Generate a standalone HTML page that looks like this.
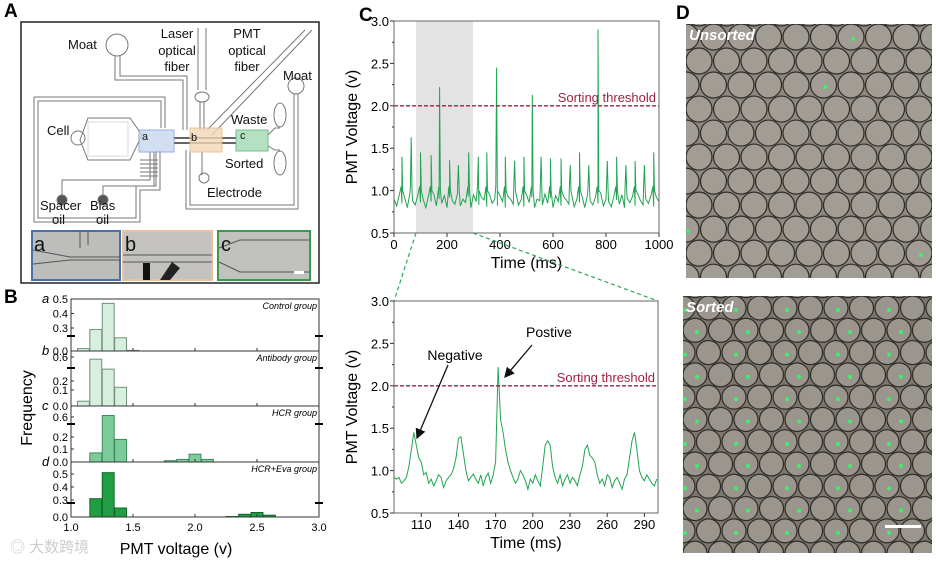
<!DOCTYPE html>
<html><head><meta charset="utf-8">
<style>
body{margin:0;background:#fff;width:936px;height:561px;overflow:hidden;font-family:"Liberation Sans","Noto Sans CJK SC",sans-serif;}
svg{position:absolute;left:0;top:0}
</style></head>
<body>
<svg id="fig" width="936" height="561" viewBox="0 0 936 561" font-family="Liberation Sans, Noto Sans CJK SC, sans-serif">
<!-- Panel A -->
<g fill="none" stroke="#777" stroke-width="1">
<text x="4" y="17" font-size="19" font-weight="bold" fill="#000" stroke="none">A</text>
<rect x="21" y="22" width="298" height="261" stroke="#222" stroke-width="1.5"/>
<circle cx="117" cy="45" r="11"/>
<path d="M115 56 V80 H183 V130 M120 56 V76 H187 V130"/>
<path d="M198 28 V90 M206 28 V90"/><ellipse cx="202" cy="97" rx="7" ry="5"/>
<path d="M200 102 V130 M204 102 V130"/>
<path d="M305 30 L207 130 M312 30 L212 135"/>
<circle cx="296" cy="86" r="8"/><path d="M294 94 V205 H190 V150 M298 94 V209 H186 V150"/>
<path d="M34 97 V222 H140 V190 H160 V150 M38 101 V218 H136 V186 H156 V150"/>
<path d="M34 97 H165 V128 M38 101 H161 V128"/>
<path d="M88 118 L130 118 L142 135 L130 160 L88 160 L80 140 Z"/>
<circle cx="78" cy="138" r="7"/>
<path d="M140 160 H158 M140 164 H158 M140 168 H158 M140 172 H158 M140 176 H158"/>
<path d="M62 200 V180 H150 V152 M103 200 V186 H154 V152"/>
<circle cx="62" cy="200" r="5" fill="#555"/><circle cx="103" cy="200" r="5" fill="#555"/>
<path d="M174 138 H236 M174 143 H236" stroke="#666" stroke-width="2"/>
<path d="M268 135 L275 128 H280 M268 146 L275 150 H280"/>
<ellipse cx="280" cy="115" rx="6" ry="12"/><ellipse cx="280" cy="163" rx="6" ry="12"/>
<path d="M202 152 V175"/><ellipse cx="204" cy="178" rx="5" ry="5"/>
<g stroke="#ccc" fill="#ccc" opacity="0.7">
<rect x="88" y="122" width="40" height="34" fill="none"/>
</g>
<rect x="139" y="130" width="35" height="22" fill="#c8d8ef" stroke="#7f9cd0" opacity="0.8"/>
<rect x="190" y="128" width="32" height="24" fill="#f3d7b5" stroke="#e3b886" opacity="0.8"/>
<rect x="236" y="130" width="32" height="21" fill="#a9dcb9" stroke="#5bb27a" opacity="0.85"/>
<g fill="#111" stroke="none" font-size="13">
<text x="68" y="49">Moat</text>
<text x="177" y="38" text-anchor="middle">Laser</text>
<text x="177" y="55" text-anchor="middle">optical</text>
<text x="177" y="71" text-anchor="middle">fiber</text>
<text x="247" y="38" text-anchor="middle">PMT</text>
<text x="247" y="55" text-anchor="middle">optical</text>
<text x="247" y="71" text-anchor="middle">fiber</text>
<text x="283" y="80">Moat</text>
<text x="47" y="135">Cell</text>
<text x="231" y="124">Waste</text>
<text x="225" y="168">Sorted</text>
<text x="207" y="197">Electrode</text>
<text x="40" y="210">Spacer</text><text x="52" y="224">oil</text>
<text x="90" y="210">Bias</text><text x="96" y="224">oil</text>
<text x="142" y="140" font-size="11">a</text>
<text x="191" y="141" font-size="11">b</text>
<text x="240" y="139" font-size="11">c</text>
</g>
<rect x="32" y="231" width="88" height="49" fill="#bdbdbb" stroke="#4a6fb0" stroke-width="2"/>
<rect x="123" y="231" width="89" height="49" fill="#c4c2bf" stroke="#e6c49c" stroke-width="2"/>
<rect x="218" y="231" width="92" height="49" fill="#c1c1bd" stroke="#3a9a55" stroke-width="2"/>
<path d="M33 250 L70 257 H120 M33 264 L70 260 H120 M80 231 V248 M88 231 V245 M123 255 H212 M123 262 H212 M219 248 L240 240 H310 M219 262 L240 272 H310" stroke="#555"/>
<rect x="143" y="263" width="7" height="17" fill="#111" stroke="none"/>
<path d="M160 280 L172 262 L180 268 L170 280" fill="#222" stroke="none"/>
<g fill="#111" stroke="none" font-size="20"><text x="34" y="251">a</text><text x="125" y="251">b</text><text x="221" y="251">c</text></g>
<rect x="294" y="271" width="10" height="3" fill="#fff" stroke="none"/>
</g>

<!-- Panel B -->
<g id="panelB">
<text x="4" y="303" font-size="19" font-weight="bold" fill="#000">B</text>
<text transform="translate(32,408) rotate(-90)" font-size="16" text-anchor="middle">Frequency</text>
<text x="176" y="554" font-size="16" text-anchor="middle">PMT voltage (v)</text>
<text x="10" y="552" font-size="15" fill="#ccc">◎ 大数跨境</text>
</g>

<!-- Panel C -->
<g id="panelC">
<text x="359" y="21" font-size="19" font-weight="bold">C</text>
</g>

<!-- Panel D -->
<g>
<text x="676" y="19" font-size="19" font-weight="bold">D</text>
<svg x="686" y="24" width="246" height="254" id="imgTop"></svg>
<svg x="683" y="296" width="249" height="257" id="imgBot"></svg>
<text x="689" y="40" font-size="15" font-weight="bold" font-style="italic" fill="#fff">Unsorted</text>
<text x="686" y="312" font-size="15" font-weight="bold" font-style="italic" fill="#fff">Sorted</text>
<rect x="885" y="525" width="36" height="3" fill="#fff"/>
</g>
</svg>
<script>
const NS="http://www.w3.org/2000/svg";
function mk(parent,tag,attrs,text){const e=document.createElementNS(NS,tag);for(const k in attrs)e.setAttribute(k,attrs[k]);if(text!==undefined)e.textContent=text;parent.appendChild(e);return e;}

/* ---------- Panel B data ---------- */
const histBins=[1.1,1.2,1.3,1.4,1.5,1.6,1.7,1.8,1.9,2.0,2.1,2.2,2.3,2.4,2.5,2.6];
const histA=[0.04,0.29,0.47,0.22,0.01,0,0,0,0,0,0,0,0,0,0,0];
const histB=[0.03,0.55,0.32,0.13,0,0,0,0,0,0,0,0,0,0,0,0];
const histC=[0,0.07,0.65,0.18,0,0,0,0.01,0.02,0.06,0.02,0,0,0,0,0];
const histD=[0,0.31,0.51,0.1,0,0,0,0,0,0,0,0,0.005,0.03,0.05,0.02];
const histNames=["Control group","Antibody group","HCR group","HCR+Eva group"];
const histLetters=["a","b","c","d"];
const histTicksA=[0.0,0.3,0.4,0.5];
const histTicksB=[0.0,0.1,0.2,0.6];
const histTicksC=[0.0,0.1,0.2,0.6];
const histTicksD=[0.0,0.3,0.4,0.5];
const xTicksB=[1.0,1.5,2.0,2.5,3.0];

const bx0=71,bx1=319;
function xB(v){return bx0+(v-1.0)/2.0*(bx1-bx0);}
const panelsB=[
 {top:299,bot:351,vals:histA,ticks:histTicksA,fill:"#d8efe0",stroke:"#6f8f7a",sc:[[0,351],[0.25,336],[0.3,328],[0.5,299]],brk:336},
 {top:351,bot:406,vals:histB,ticks:histTicksB,fill:"#d8efe0",stroke:"#6f8f7a",sc:[[0,406],[0.1,390],[0.2,381],[0.3,370],[0.6,357]],brk:368},
 {top:406,bot:462,vals:histC,ticks:histTicksC,fill:"#7ccc9a",stroke:"#3f8a5a",sc:[[0,462],[0.1,449],[0.2,437],[0.3,424],[0.6,417],[0.7,414]],brk:424},
 {top:462,bot:517,vals:histD,ticks:histTicksD,fill:"#1f9e44",stroke:"#12642a",sc:[[0,517],[0.1,508],[0.3,500],[0.5,474],[0.6,461]],brk:503}
];
function pw(sc,v){for(let i=0;i<sc.length-1;i++){if(v<=sc[i+1][0]){const t=(v-sc[i][0])/(sc[i+1][0]-sc[i][0]);return sc[i][1]+t*(sc[i+1][1]-sc[i][1]);}}return sc[sc.length-1][1];}
const gB=document.getElementById("panelB");
panelsB.forEach((p,pi)=>{
  const g=mk(gB,"g",{});
  
  
  p.vals.forEach((v,i)=>{ if(v<=0)return;
    const y=pw(p.sc,v);const x=xB(histBins[i]-0.048);
    const r=mk(g,"rect",{x:x,y:y,width:xB(histBins[i]+0.048)-x,height:p.bot-y,fill:p.fill,stroke:p.stroke,"stroke-width":1});
    
    
  });
  const fr=mk(g,"rect",{x:bx0,y:p.top,width:bx1-bx0,height:p.bot-p.top,fill:"none",stroke:"#333","stroke-width":1});
  
  
  mk(g,"line",{x1:bx0-4,x2:bx0+4,y1:p.brk,y2:p.brk,stroke:"#000","stroke-width":2});
  mk(g,"line",{x1:bx1-4,x2:bx1+4,y1:p.brk,y2:p.brk,stroke:"#000","stroke-width":2});
  p.ticks.forEach(t=>{const y=pw(p.sc,t);
    mk(g,"line",{x1:bx0,x2:bx0+3,y1:y,y2:y,stroke:"#333"});
    const tl=mk(g,"text",{x:bx0-3,y:y+4,"font-size":11,"text-anchor":"end"},t.toFixed(1));
    
    
  });
  xTicksB.forEach(t=>mk(g,"line",{x1:xB(t),x2:xB(t),y1:p.bot,y2:p.bot-3,stroke:"#333"}));
  const nm=mk(g,"text",{x:bx1-2,y:p.top+10,"font-size":9,"font-style":"italic","text-anchor":"end"},histNames[pi]);
  
  
  const lt=mk(g,"text",{x:42,y:p.top+4,"font-size":13,"font-style":"italic"},histLetters[pi]);
  
  
});
xTicksB.forEach(t=>{const tl=mk(gB,"text",{x:xB(t),y:531,"font-size":11,"text-anchor":"middle"},t.toFixed(1));
  
  });

/* ---------- Panel C data ---------- */
const baselineTop=[0.9,0.82,0.95,0.85,0.92,0.8,0.97,0.88,0.83,0.95,0.86,0.9,0.8,0.93,0.87,0.96,0.82,0.9,0.85,0.94,0.8,0.92,0.88,0.84,0.97,0.82,0.9,0.86,0.93,0.8,0.95,0.87,0.83,0.92,0.89,0.81,0.96,0.85,0.9,0.82,0.94,0.87,0.8,0.93,0.9,0.84,0.97,0.83,0.89,0.81,0.95,0.86,0.92,0.8,0.9,0.88,0.83,0.96,0.85,0.91,0.8,0.94,0.87,0.82,0.93,0.89,0.84,0.96,0.81,0.9,0.86,0.93,0.8,0.95,0.88,0.83,0.92,0.85,0.97,0.82,0.9,0.87,0.81,0.94,0.89,0.84,0.95,0.8,0.91,0.86,0.93,0.82,0.96,0.88,0.83,0.9,0.85,0.94,0.81,0.92,0.87];
const peakTimes=[30,65,100,140,172,210,243,282,318,350,387,420,455,490,522,555,590,630,665,700,735,770,805,840,875,910,945,980];
const peakValues=[1.4,1.63,1.45,1.42,2.22,1.36,1.3,1.45,1.4,1.45,2.45,1.4,1.35,1.4,2.13,1.4,1.38,1.38,1.3,1.45,1.3,2.9,1.35,1.4,1.3,1.35,1.3,1.45];
const zoomTimes=[88,90,92,94,96,98,100,102,104,106,108,110,112,114,116,118,120,122,124,126,128,130,132,134,136,138,140,142,144,146,148,150,152,154,156,158,160,162,164,166,168,170,172,174,176,178,180,182,184,186,188,190,192,194,196,198,200,202,204,206,208,210,212,214,216,218,220,222,224,226,228,230,232,234,236,238,240,242,244,246,248,250,252,254,256,258,260,262,264,266,268,270,272,274,276,278,280,282,284,286,288,290,292,294,296,298,300];
const zoomValues=[0.92,0.9,0.92,0.85,0.88,0.92,1.05,1.25,1.45,1.3,1.15,1.1,0.95,0.98,0.85,0.9,0.82,0.88,0.95,0.92,0.8,0.88,0.92,0.95,1.02,1.15,1.38,1.4,1.2,1.0,0.88,0.92,0.96,0.9,0.85,0.95,0.82,0.92,0.97,0.85,0.95,1.1,2.22,1.6,1.45,1.25,1.1,1.0,0.92,0.85,0.9,1.0,0.95,0.88,0.78,0.9,0.85,0.95,0.88,0.82,1.05,1.3,1.35,1.3,1.05,0.92,0.85,0.95,0.82,0.9,0.95,0.85,0.92,0.88,0.82,0.95,1.05,1.25,1.3,1.18,1.15,1.1,0.95,0.85,0.9,0.82,0.95,0.92,0.8,0.88,0.92,0.85,0.78,0.9,0.95,1.15,1.35,1.45,1.25,1.0,0.92,0.88,0.95,0.9,0.85,0.82,0.9];
const xTicksTop=[0,200,400,600,800,1000];
const xTicksZoom=[110,140,170,200,230,260,290];
const yTicksC=[0.5,1.0,1.5,2.0,2.5,3.0];
const threshold=2.0;
const shadeRange=[83,298];

const gC=document.getElementById("panelC");
function chart(cfg){
  const {x0,x1,y0,y1,d0,d1}=cfg;
  const X=t=>x0+(t-d0)/(d1-d0)*(x1-x0);
  const Y=v=>y1-(v-0.5)/2.5*(y1-y0);
  const g=mk(gC,"g",{});
  
  
  if(cfg.shade){const s=mk(g,"rect",{x:X(cfg.shade[0]),y:y0,width:X(cfg.shade[1])-X(cfg.shade[0]),height:y1-y0,fill:"#e3e3e3"});
    }
  const pl=mk(g,"polyline",{points:cfg.pts.map(p=>X(p[0]).toFixed(1)+","+Y(p[1]).toFixed(1)).join(" "),fill:"none",stroke:"#22a452","stroke-width":1});
  
  const th=mk(g,"line",{x1:x0,x2:x1,y1:Y(threshold),y2:Y(threshold),stroke:"#a3213f","stroke-width":1.3,"stroke-dasharray":"4,2"});
  
  const tt=mk(g,"text",{x:x1-3,y:Y(threshold)-4,"font-size":13,fill:"#a3213f","text-anchor":"end"},"Sorting threshold");
  
  mk(g,"rect",{x:x0,y:y0,width:x1-x0,height:y1-y0,fill:"none",stroke:"#666","stroke-width":1});
  yTicksC.forEach(v=>{mk(g,"line",{x1:x0,x2:x0-4,y1:Y(v),y2:Y(v),stroke:"#333"});
    if(v<3){mk(g,"line",{x1:x0,x2:x0-2,y1:Y(v+0.25),y2:Y(v+0.25),stroke:"#333"});}
    const tl=mk(g,"text",{x:x0-5,y:Y(v)+5,"font-size":13,"text-anchor":"end"},v.toFixed(1));
    });
  cfg.xt.forEach(t=>{mk(g,"line",{x1:X(t),x2:X(t),y1:y1,y2:y1+4,stroke:"#333"});
    const tl=mk(g,"text",{x:X(t),y:y1+16,"font-size":13,"text-anchor":"middle"},String(t));
    });
  const xt=mk(g,"text",{x:(x0+x1)/2,y:y1+35,"font-size":16,"text-anchor":"middle"},"Time (ms)");
  
  const yt=mk(g,"text",{transform:`translate(${x0-37},${(y0+y1)/2}) rotate(-90)`,"font-size":16,"text-anchor":"middle"},"PMT Voltage (v)");
  
  return {X,Y};
}
let topPts=baselineTop.map((v,i)=>[i*10,v]);
peakTimes.forEach((t,i)=>{topPts.push([t-3,1.05]);topPts.push([t,peakValues[i]]);topPts.push([t+3,1.0]);});
topPts.sort((a,b)=>a[0]-b[0]);
const topChart=chart({name:"overview-trace-chart",x0:394,x1:659,y0:21,y1:233,d0:0,d1:1000,pts:topPts,xt:xTicksTop,shade:shadeRange});
const zpts=zoomTimes.map((t,i)=>[t,zoomValues[i]]);
const botChart=chart({name:"zoomed-trace-chart",x0:394,x1:658,y0:301,y1:513,d0:88,d1:301,pts:zpts,xt:xTicksZoom});
[[topChart.X(shadeRange[0]),233,394,301],[topChart.X(shadeRange[1]),233,658,301]].forEach(c=>{
  const l=mk(gC,"line",{x1:c[0],y1:c[1],x2:c[2],y2:c[3],stroke:"#2aa85a","stroke-width":1.2,"stroke-dasharray":"4,3"});
  });
mk(gC,"defs",{}).innerHTML='<marker id="ah" markerWidth="8" markerHeight="8" refX="7" refY="4" orient="auto"><path d="M0,0 L8,4 L0,8 Z" fill="#111"/></marker>';
const na=mk(gC,"text",{x:455,y:360,"font-size":14,"text-anchor":"middle"},"Negative");

const pa=mk(gC,"text",{x:549,y:337,"font-size":14,"text-anchor":"middle"},"Postive");

mk(gC,"line",{x1:448,y1:365,x2:417,y2:438,stroke:"#111","stroke-width":1.3,"marker-end":"url(#ah)"});
mk(gC,"line",{x1:532,y1:345,x2:505,y2:377,stroke:"#111","stroke-width":1.3,"marker-end":"url(#ah)"});

/* ---------- Panel D droplet images (texture) ---------- */
function droplets(id,r,greens,bg,fill){
  const s=document.getElementById(id);
  mk(s,"rect",{x:0,y:0,width:"100%",height:"100%",fill:bg});
  const dx=2*r+1.5,dy=Math.sqrt(3)*r+1.5;let k=0;
  for(let row=-1;row*dy<270;row++){for(let col=-1;col*dx<260;col++){
    const cx=col*dx+(Math.abs(row)%2?r:0),cy=row*dy+r;
    mk(s,"circle",{cx:cx,cy:cy,r:r,fill:fill,stroke:"#2f2b27","stroke-width":1.2});
    k++; if(greens(k)) mk(s,"circle",{cx:cx+2,cy:cy+2,r:2,fill:"#3df06a"});
  }}
}
droplets("imgTop",13,k=>[5,19,40,66,88,101,120].includes(k),"#8e8981","#a19c94");
droplets("imgBot",12,k=>k%2===0,"#7d786f","#9a958d");
</script>
</body></html>
